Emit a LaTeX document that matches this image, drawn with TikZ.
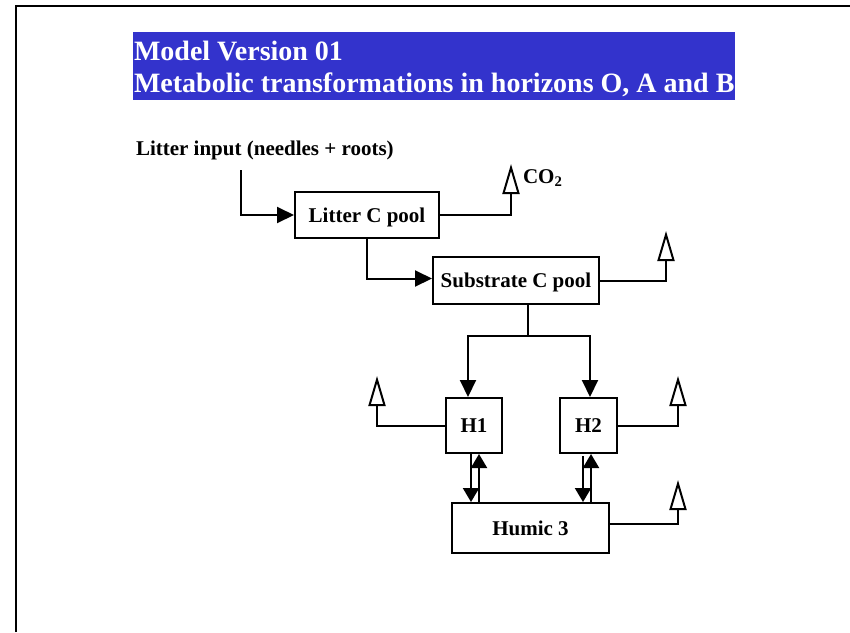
\documentclass[tikz,border=0pt]{standalone}
\usepackage{fontspec}
\setmainfont{Liberation Serif}
\usetikzlibrary{arrows.meta,calc}
\definecolor{titleblue}{RGB}{51,51,204}
\begin{document}
\begin{tikzpicture}[x=1pt,y=-1pt,
  line width=2pt,
  pool/.style={draw,rectangle,inner sep=0pt,text height=14pt,text depth=0pt,
    font=\fontsize{21}{25}\selectfont\bfseries},
  flow/.style={-{Triangle[length=17pt,width=16pt]}},
  flowshort/.style={-{Triangle[length=14pt,width=16pt]}},
  vent/.style={-{Triangle[length=30pt,width=17pt,fill=white]}},
  lbl/.style={inner sep=0pt,anchor=base west,font=\fontsize{21}{25}\selectfont\bfseries}]
\useasboundingbox (0,0) rectangle (850,632);

% slide frame (top and left edges)
\draw[line width=2pt] (16,632) -- (16,6) -- (850,6);

% title banner
\fill[titleblue] (133,32) rectangle (735,100);
\node[inner sep=0pt,anchor=base west,text=white,font=\fontsize{28}{32}\selectfont\bfseries]
  (t1) at (133,60) {Model Version 01};
\node[inner sep=0pt,anchor=base west,text=white,font=\fontsize{28}{32}\selectfont\bfseries]
  (t2) at (133,92) {Metabolic transformations in horizons O, A and B};

% pools
\node[pool,minimum width=144pt,minimum height=46pt] (litter) at (367,215) {Litter C pool};
\node[pool,minimum width=166pt,minimum height=47pt] (sub) at (516,280.5) {Substrate C pool};
\node[pool,minimum width=56pt,minimum height=55pt] (h1) at (474,425.5) {H1};
\node[pool,minimum width=57pt,minimum height=55pt] (h2) at (588.5,425.5) {H2};
\node[pool,minimum width=157pt,minimum height=50pt] (hum) at (530.5,528) {Humic 3};

% litter input
\node[lbl] (input) at (135,155) {Litter input (needles + roots)};
\coordinate (inTop) at (241,170);
\draw[flow] (inTop) |- (litter.west);

% CO2 outlets
\coordinate (ventA) at (511,164);
\coordinate (ventB) at (666,231);
\coordinate (ventC) at (377,376);
\coordinate (ventD) at (678,376);
\coordinate (ventE) at (678,480);
\draw[vent] (litter.east) -| (ventA);
\node[lbl] (co2) at (522,183) {CO\textsubscript{2}};
\draw[vent] (sub.east) -| (ventB);
\draw[vent] (h1.west) -| (ventC);
\draw[vent] (h2.east) -| (ventD);
\draw[vent] ([yshift=4pt]hum.east) -| (ventE);

% litter to substrate
\draw[flow] (litter.south) |- ([yshift=2pt]sub.west);

% substrate to H1 and H2
\coordinate (split) at (528,336);
\draw (split |- sub.south) -- (split);
\draw[flow] (split) -| ([xshift=-6pt]h1.north);
\draw[flow] (split) -| ([xshift=1.5pt]h2.north);

% exchange between H1, H2 and Humic 3
\draw[flowshort] ([xshift=-3pt]h1.south) -- ([xshift=-3pt]h1.south |- hum.north);
\draw[flowshort] ([xshift=5pt]h1.south |- hum.north) -- ([xshift=5pt]h1.south);
\draw[flowshort] ([xshift=-5.5pt,yshift=-2pt]h2.south) -- ([xshift=-5.5pt]h2.south |- hum.north);
\draw[flowshort] ([xshift=2.5pt]h2.south |- hum.north) -- ([xshift=2.5pt]h2.south);
\end{tikzpicture}
\end{document}
